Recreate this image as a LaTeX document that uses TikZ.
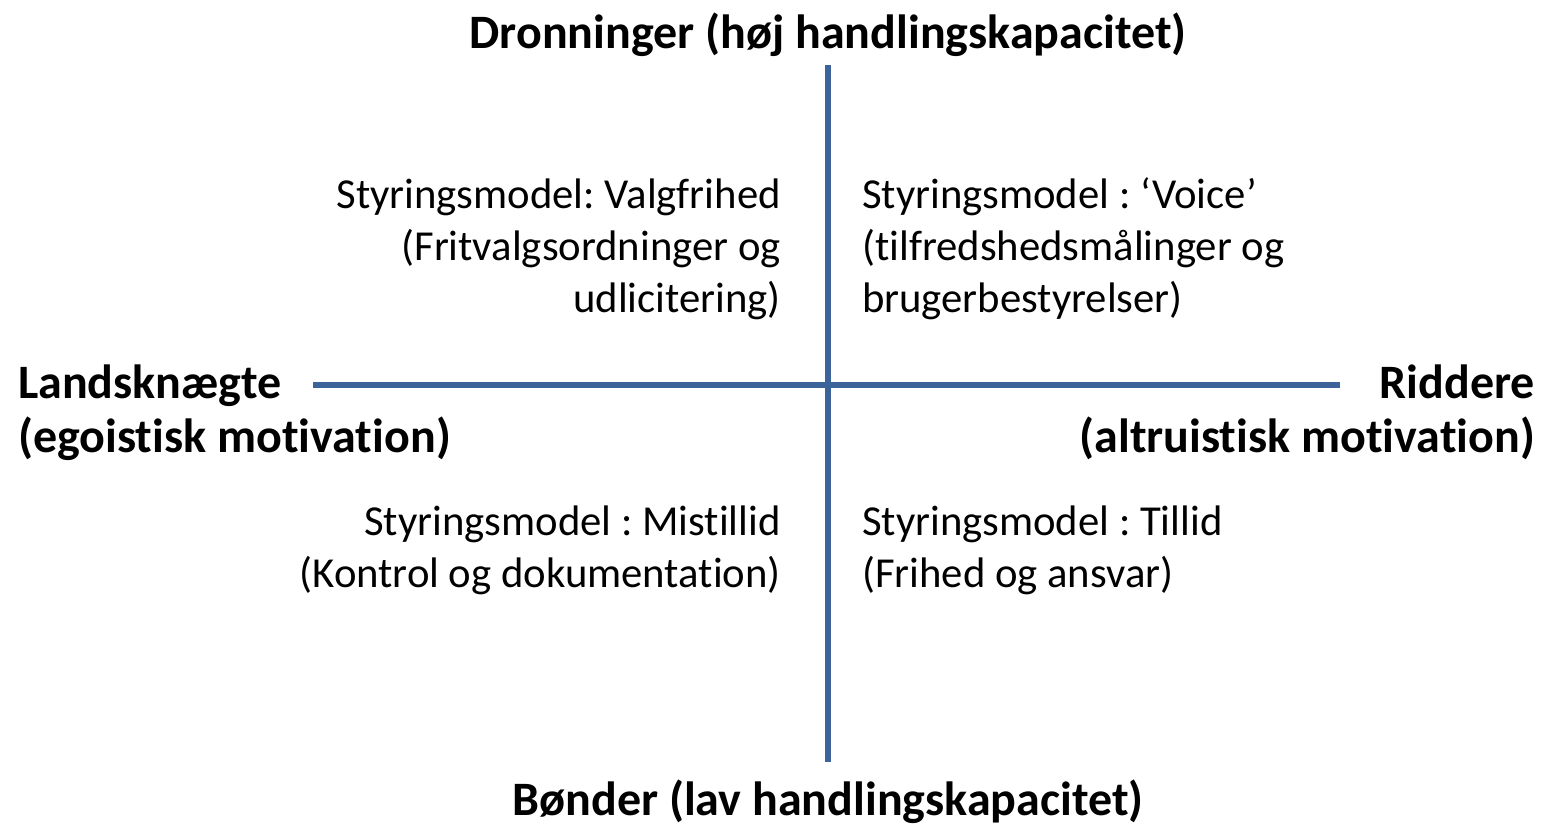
\documentclass[tikz,border=0pt]{standalone}
\usepackage{fontspec}
\setmainfont{Carlito}[Ligatures=NoCommon]
\frenchspacing
\definecolor{axisblue}{RGB}{60,100,155}

\tikzset{
  axisline/.style={draw=axisblue, line width=6pt},
  pole/.style={font=\bfseries\fontsize{48}{54}\selectfont, inner sep=0pt},
  model/.style={font=\fontsize{42.7}{52}\selectfont, inner sep=0pt},
}

\begin{document}
\begin{tikzpicture}[x=1pt, y=-1pt]
  \useasboundingbox (0,0) rectangle (1552,824);

  % axes
  \coordinate (top) at (828,65);
  \coordinate (bottom) at (828,762);
  \coordinate (left) at (313,385);
  \coordinate (right) at (1340,385);
  \draw[axisline] (top) -- (bottom);
  \draw[axisline] (left) -- (right);

  % poles (base = last line)
  \node[pole, anchor=base] (queens) at (828,49) {Dronninger (høj handlingskapacitet)};
  \node[pole, anchor=base] (pawns) at (828,815) {Bønder (lav handlingskapacitet)};
  \node[pole, anchor=base west, align=left] (knaves) at (18,452) {Landsknægte\\(egoistisk motivation)};
  \node[pole, anchor=base east, align=right] (knights) at (1535,452) {Riddere\\(altruistisk motivation)};

  % quadrants
  \node[model, anchor=base east, align=right] (choice) at (781,312)
    {Styringsmodel: Valgfrihed\\(Fritvalgsordninger og\\udlicitering)};
  \node[model, anchor=base west, align=left] (voice) at (862,312)
    {Styringsmodel : ‘Voice’\\(tilfredshedsmålinger og\\brugerbestyrelser)};
  \node[model, anchor=base east, align=right] (distrust) at (781,587)
    {Styringsmodel : Mistillid\\(Kontrol og dokumentation)};
  \node[model, anchor=base west, align=left] (trust) at (862,587)
    {Styringsmodel : Tillid\\(Frihed og ansvar)};
\end{tikzpicture}
\end{document}
